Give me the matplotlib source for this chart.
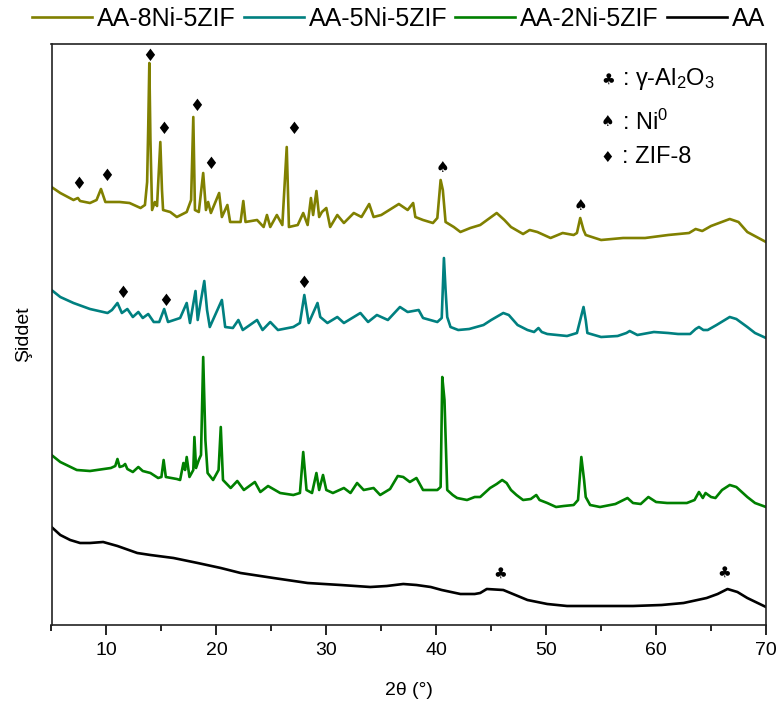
import matplotlib
matplotlib.use("Agg")
import matplotlib.pyplot as plt
from matplotlib.ticker import MultipleLocator, NullLocator

plt.rcParams['font.family'] = ['Liberation Sans', 'DejaVu Sans']
plt.rcParams['mathtext.fontset'] = 'custom'
plt.rcParams['mathtext.rm'] = 'Liberation Sans'
plt.rcParams['mathtext.it'] = 'Liberation Sans'

# ---- XRD patterns (2theta in degrees, stacked intensity in a.u.) ----
aa_2theta = [5.0, 5.4, 5.8, 6.7, 7.6, 8.5, 9.7, 11.0, 12.8, 14.0, 16.1, 18.3, 20.4, 22.2,
             25.2, 28.3, 31.3, 34.0, 35.5, 37.0, 38.2, 39.5, 40.5, 42.2, 43.5, 44.0, 44.6,
             46.1, 47.2, 48.3, 50.1, 51.9, 55.0, 57.9, 60.5, 62.5, 64.6, 65.6, 66.5, 67.4,
             68.3, 70.0]
aa_int = [98, 94, 90, 85, 82, 82, 83, 79, 72, 70, 67, 62, 57, 52,
          47, 42, 40, 38, 39, 41, 40, 38, 35, 31, 31, 32, 36,
          35, 30, 25, 21, 19, 19, 19, 20, 22, 27, 31, 36, 33,
          27, 18]

ni2_2theta = [5.0, 5.8, 7.3, 8.5, 10.4, 10.8, 11.0, 11.2, 11.5, 11.7, 11.9, 12.4, 12.9,
              13.3, 14.0, 14.7, 15.0, 15.2, 15.4, 16.4, 16.7, 17.0, 17.15, 17.3, 17.55,
              17.9, 18.0, 18.15, 18.4, 18.6, 18.8, 19.0, 19.2, 19.7, 20.2, 20.4, 20.6,
              21.3, 21.9, 22.5, 23.5, 24.0, 24.7, 25.8, 27.0, 27.6, 27.9, 28.2, 28.7,
              29.1, 29.35, 29.7, 30.0, 30.6, 31.6, 32.2, 32.8, 33.4, 34.3, 34.9, 35.8,
              36.5, 37.0, 37.6, 38.2, 38.8, 40.1, 40.4, 40.55, 40.75, 41.0, 41.5, 41.9,
              42.8, 43.5, 44.0, 44.9, 45.5, 46.0, 46.4, 46.8, 47.3, 47.9, 48.6, 49.1,
              49.4, 50.1, 50.9, 51.6, 52.5, 52.9, 53.2, 53.45, 53.6, 54.0, 54.9, 56.3,
              57.4, 57.9, 58.6, 59.3, 60.0, 61.0, 62.8, 63.5, 63.9, 64.25, 64.5, 65.0,
              65.4, 66.0, 66.7, 67.3, 68.3, 69.0, 70.0]
ni2_pix = [455, 462, 470, 471, 468, 466, 459, 467, 466, 464, 469, 472, 467,
           471, 473, 478, 477, 460, 477, 479, 480, 463, 470, 457, 477,
           470, 437, 468, 460, 455, 357, 440, 473, 480, 470, 427, 480,
           488, 481, 490, 482, 492, 486, 493, 495, 493, 452, 490, 493,
           473, 490, 475, 490, 493, 488, 493, 483, 490, 488, 495, 489,
           476, 477, 482, 478, 490, 490, 487, 377, 400, 490, 495, 498,
           500, 497, 497, 488, 484, 480, 483, 490, 495, 500, 499, 495,
           500, 503, 507, 506, 505, 500, 457, 480, 497, 505, 507, 504,
           498, 503, 504, 497, 502, 503, 503, 500, 492, 498, 493, 497,
           498, 490, 485, 487, 497, 503, 507]
ni2_int = [625 - v for v in ni2_pix]

ni5_2theta = [5.0, 5.8, 7.0, 8.5, 10.1, 10.5, 11.0, 11.4, 11.9, 12.4, 12.9, 13.3, 13.8,
              14.3, 14.8, 15.25, 15.6, 16.7, 17.3, 17.6, 18.1, 18.3, 18.6, 18.9, 19.15,
              19.4, 20.5, 20.8, 21.5, 22.0, 22.4, 23.7, 24.2, 24.9, 25.6, 27.0, 27.6,
              28.0, 28.4, 29.2, 29.45, 30.1, 31.0, 31.6, 33.1, 33.8, 34.6, 35.6, 36.7,
              37.4, 38.4, 38.8, 40.1, 40.5, 40.7, 40.85, 41.0, 41.3, 42.0, 43.0, 44.3,
              45.0, 46.1, 46.6, 47.4, 48.3, 48.9, 49.3, 49.6, 50.1, 51.0, 51.9, 52.8,
              53.1, 53.4, 53.6, 53.75, 55.0, 56.5, 57.3, 57.6, 58.3, 59.8, 61.1, 62.0,
              63.1, 63.6, 63.9, 64.3, 64.7, 65.5, 66.7, 67.3, 68.3, 69.0, 70.0]
ni5_pix = [290, 297, 303, 309, 313, 310, 303, 313, 309, 317, 312, 318, 314,
           322, 322, 309, 322, 318, 303, 323, 291, 320, 300, 281, 310,
           327, 300, 327, 328, 320, 330, 320, 330, 322, 330, 327, 323,
           295, 323, 303, 317, 323, 317, 323, 313, 322, 315, 320, 307,
           312, 310, 318, 322, 318, 258, 290, 317, 327, 330, 329, 325,
           320, 313, 315, 325, 330, 332, 328, 332, 334, 335, 336, 333,
           320, 307, 320, 333, 337, 336, 333, 331, 335, 332, 333, 334,
           334, 329, 327, 330, 330, 325, 317, 319, 327, 333, 338]
ni5_int = [625 - v for v in ni5_pix]

ni8_2theta = [5.0, 5.8, 7.0, 7.4, 7.6, 8.5, 9.1, 9.5, 9.9, 11.2, 12.1, 13.1, 13.5,
              13.7, 13.8, 13.9, 14.0, 14.15, 14.4, 14.6, 14.9, 15.05, 15.15, 15.8, 16.4,
              17.3, 17.7, 17.9, 18.05, 18.4, 18.8, 19.05, 19.25, 19.5, 20.25, 20.5, 21.0,
              21.25, 22.2, 22.45, 22.65, 23.7, 24.3, 24.6, 24.9, 25.5, 26.0, 26.4, 26.6,
              27.4, 27.9, 28.3, 28.6, 28.8, 29.1, 29.35, 29.6, 30.0, 30.35, 31.0, 31.6,
              32.5, 33.2, 33.9, 34.3, 35.0, 36.6, 37.4, 37.9, 38.1, 38.8, 39.7, 40.1,
              40.4, 40.6, 40.85, 41.6, 42.2, 43.1, 44.0, 45.5, 46.2, 46.8, 47.9, 48.5,
              49.2, 50.4, 51.5, 52.5, 52.8, 53.1, 53.4, 53.6, 55.0, 57.0, 59.0, 61.1,
              63.0, 63.6, 64.2, 65.0, 66.7, 67.5, 68.3, 70.0]
ni8_pix = [187, 193, 200, 198, 201, 203, 200, 189, 202, 202, 203, 208, 205,
           182, 127, 63, 140, 210, 202, 206, 142, 190, 210, 212, 217,
           212, 200, 117, 210, 212, 173, 210, 202, 213, 193, 217, 205,
           222, 222, 201, 222, 220, 227, 215, 227, 215, 225, 147, 227,
           225, 213, 225, 198, 215, 191, 217, 212, 208, 227, 215, 223,
           213, 217, 204, 217, 215, 204, 210, 203, 217, 220, 223, 218,
           180, 190, 222, 227, 232, 228, 225, 213, 220, 227, 234, 230,
           232, 238, 233, 235, 233, 218, 230, 235, 240, 238, 238, 235,
           233, 229, 231, 226, 219, 222, 232, 242]
ni8_int = [625 - v for v in ni8_pix]

series_labels = ['AA-8Ni-5ZIF', 'AA-5Ni-5ZIF', 'AA-2Ni-5ZIF', 'AA']
series_colors = ['#808000', '#008080', '#008000', '#000000']

# reflection markers: (2theta, height)
zif_marks = [(7.44, 441), (10.03, 449), (13.97, 569), (15.18, 496), (18.22, 519),
             (19.44, 461), (27.02, 496), (11.45, 332), (15.34, 324), (27.93, 342)]
ni_marks = [(40.56, 458), (53.13, 420)]
al2o3_marks = [(45.85, 52), (66.2, 53)]

fig = plt.figure(figsize=(7.79, 7.10), dpi=100)
ax = fig.add_axes([51.5 / 779, 85 / 710, (766 - 51.5) / 779, (625 - 44) / 710])

data = [(ni8_2theta, ni8_int), (ni5_2theta, ni5_int), (ni2_2theta, ni2_int), (aa_2theta, aa_int)]
handles = []
for (x, y), lab, col in zip(data, series_labels, series_colors):
    ln, = ax.plot(x, y, color=col, lw=1.9, label=lab)
    handles.append(ln)

sym_fam = ['DejaVu Sans']
for x, y in zif_marks:
    ax.text(x, y, '\u2666', ha='center', va='center', fontsize=12, family=sym_fam, color='black')
for x, y in ni_marks:
    ax.text(x, y, '\u2660', ha='center', va='center', fontsize=11, family=sym_fam, color='black')
for x, y in al2o3_marks:
    ax.text(x, y, '\u2663', ha='center', va='center', fontsize=11, family=sym_fam, color='black')

# phase key
key = [('\u2663', ': \u03b3-Al$_2$O$_3$', 546),
       ('\u2660', ': Ni$^0$', 503),
       ('\u2666', ': ZIF-8', 468)]
for sym, txt, y in key:
    ax.text(55.6, y, sym, ha='center', va='center', fontsize=11, family=sym_fam)
    ax.text(56.9, y, txt, ha='left', va='center', fontsize=17)

ax.set_xlim(5, 70)
ax.set_ylim(0, 581)
ax.xaxis.set_major_locator(MultipleLocator(10))
ax.xaxis.set_minor_locator(MultipleLocator(5))
ax.yaxis.set_major_locator(NullLocator())
ax.tick_params(axis='x', which='major', direction='out', length=7, width=1.2, labelsize=14, pad=5)
ax.tick_params(axis='x', which='minor', direction='out', length=4, width=1.2)
for sp in ax.spines.values():
    sp.set_linewidth(1.2)
    sp.set_color('#222222')

ax.set_xlabel('2\u03b8 (\u00b0)', fontsize=14, labelpad=17)
ax.set_ylabel('\u015eiddet', fontsize=14, labelpad=14)

fig.legend(handles=handles, labels=series_labels, loc='center left',
           bbox_to_anchor=(32 / 779, 1 - 19 / 710), ncol=4, frameon=False,
           fontsize=18, handlelength=2.4, handletextpad=0.2, columnspacing=0.32,
           borderpad=0, borderaxespad=0)

fig.savefig('out.png', dpi=100)
